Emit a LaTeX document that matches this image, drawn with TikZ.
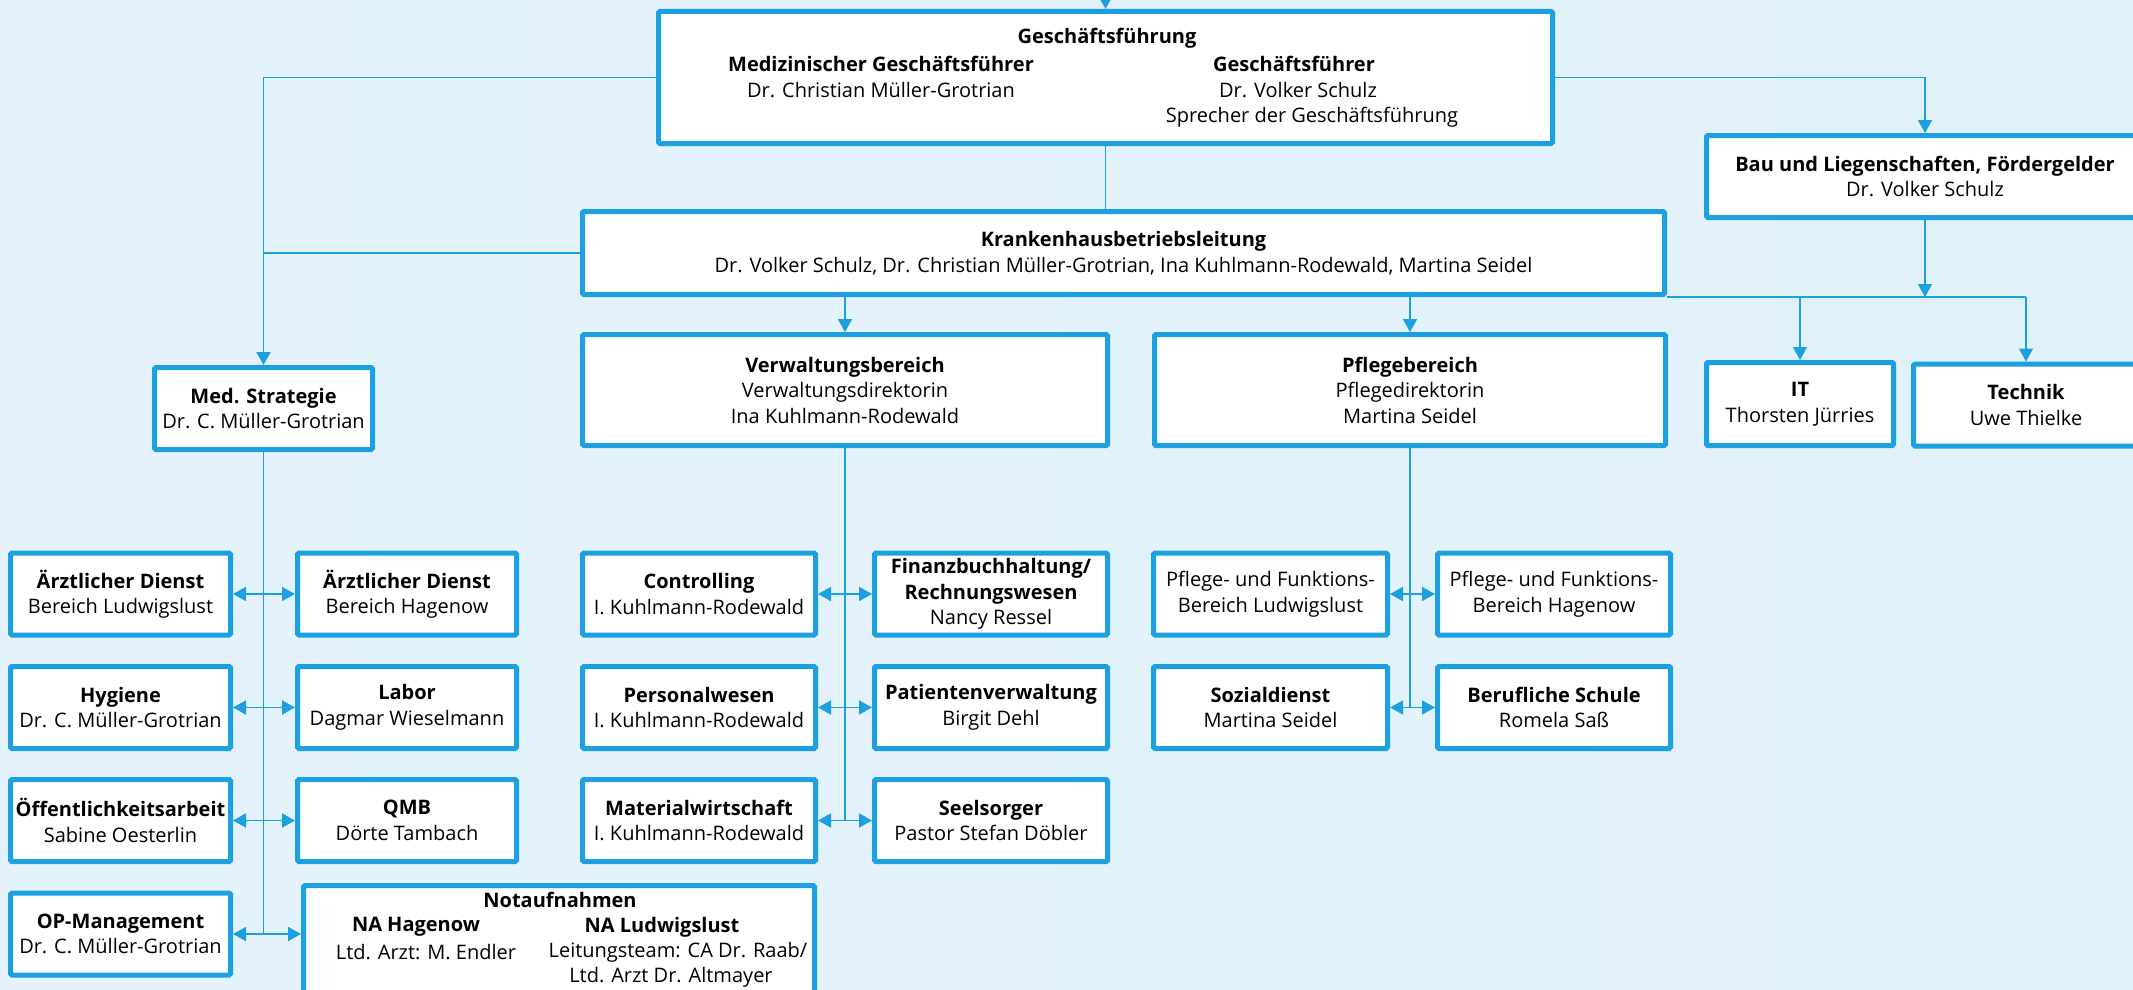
\documentclass[tikz,border=0pt]{standalone}
\usepackage{fontspec}
\setmainfont{Open Sans}
\usetikzlibrary{arrows.meta}
\definecolor{orgblue}{HTML}{1CA0E0}
\definecolor{bgleft}{HTML}{E4F3FB}
\definecolor{bgmid}{HTML}{D5EAF7}
\definecolor{bgright}{HTML}{E1F1FA}

\begin{document}
\begin{tikzpicture}[x=1pt, y=-1pt,
    unit/.style={draw=orgblue, line width=5pt, fill=white, rounded corners=1.5pt,
      align=center, inner sep=0pt, minimum height=82pt,
      font=\fontsize{20}{25.5}\selectfont},
    txt/.style={inner sep=0pt, align=center, font=\fontsize{20}{25.5}\selectfont},
    link/.style={draw=orgblue, line width=1.8pt},
    arrowtip/.style={-{Triangle[width=14pt,length=13pt]}}]

    % Background
    \useasboundingbox (0,0) rectangle (2133,990);
    \shade[left color=bgleft, middle color=bgmid, right color=bgright] (0,0) rectangle (2133,990);
    \clip (0,0) rectangle (2133,990);

    % Top level
    \node[unit, minimum width=894pt, minimum height=132pt] (gf) at (1105.5,77.5) {};
    \node[unit, minimum width=1082pt, minimum height=83pt] (kbl) at (1123.5,253)
      {\textbf{Krankenhausbetriebsleitung}\\Dr. Volker Schulz, Dr. Christian Müller-Grotrian, Ina Kuhlmann-Rodewald, Martina Seidel};
    \node[unit, minimum width=437pt] (bau) at (1925,176.5)
      {\textbf{Bau und Liegenschaften, Fördergelder}\\Dr. Volker Schulz};

    % Geschaeftsfuehrung text
    \foreach \x/\y/\t [count=\i] in {1107/38/{\textbf{Geschäftsführung}},
        881/64/{\textbf{Medizinischer Geschäftsführer}}, 881/90/{Dr. Christian Müller-Grotrian},
        1294/64/{\textbf{Geschäftsführer}}, 1298/90/{Dr. Volker Schulz},
        1312/117/{Sprecher der Geschäftsführung}} {
      \node[txt] (gf\i) at (\x,\y) {\t};
    }

    % Second level
    \node[unit, minimum width=218pt] (med) at (263.5,408.5)
      {\textbf{Med. Strategie}\\Dr. C. Müller-Grotrian};
    \node[unit, minimum width=525pt, minimum height=111pt] (verw) at (845,390)
      {\textbf{Verwaltungsbereich}\\Verwaltungsdirektorin\\Ina Kuhlmann-Rodewald};
    \node[unit, minimum width=511pt, minimum height=111pt] (pflege) at (1410,390)
      {\textbf{Pflegebereich}\\Pflegedirektorin\\Martina Seidel};
    \node[unit, minimum width=187pt, minimum height=83pt] (it) at (1800,404)
      {\textbf{IT}\\Thorsten Jürries};
    \node[unit, minimum width=225pt] (technik) at (2026,405)
      {\textbf{Technik}\\Uwe Thielke};

    % Departments
    \foreach \n/\x/\y/\w/\t in {
        aeL/120.5/594/220/{\textbf{Ärztlicher Dienst}\\Bereich Ludwigslust},
        hyg/120.5/707.5/220/{\textbf{Hygiene}\\Dr. C. Müller-Grotrian},
        oea/120.5/820.5/220/{\textbf{Öffentlichkeitsarbeit}\\Sabine Oesterlin},
        op/120.5/934/220/{\textbf{OP-Management}\\Dr. C. Müller-Grotrian},
        aeH/407/594/219/{\textbf{Ärztlicher Dienst}\\Bereich Hagenow},
        labor/407/707.5/219/{\textbf{Labor}\\Dagmar Wieselmann},
        qmb/407/820.5/219/{\textbf{QMB}\\Dörte Tambach},
        ctrl/699/594/233/{\textbf{Controlling}\\I. Kuhlmann-Rodewald},
        pers/699/707.5/233/{\textbf{Personalwesen}\\I. Kuhlmann-Rodewald},
        mat/699/820.5/233/{\textbf{Materialwirtschaft}\\I. Kuhlmann-Rodewald},
        fibu/991/594/233/{\textbf{Finanzbuchhaltung/}\\\textbf{Rechnungswesen}\\Nancy Ressel},
        patv/991/707.5/233/{\textbf{Patientenverwaltung}\\Birgit Dehl},
        seel/991/820.5/233/{\textbf{Seelsorger}\\Pastor Stefan Döbler},
        pfL/1270.5/594/234/{Pflege- und Funktions-\\Bereich Ludwigslust},
        sozial/1270.5/707.5/234/{\textbf{Sozialdienst}\\Martina Seidel},
        pfH/1554/594/233/{Pflege- und Funktions-\\Bereich Hagenow},
        schule/1554/707.5/233/{\textbf{Berufliche Schule}\\Romela Saß}} {
      \node[unit, minimum width=\w pt] (\n) at (\x,\y) {\t};
    }

    % Notaufnahmen
    \node[unit, minimum width=511pt, minimum height=107pt] (na) at (559,939) {};
    \foreach \x/\y/\t [count=\i] in {560/900/{\textbf{Notaufnahmen}},
        416/927/{\textbf{NA Hagenow}}, 426/952/{Ltd. Arzt: M. Endler},
        662/927/{\textbf{NA Ludwigslust}}, 678/952/{Leitungsteam: CA Dr. Raab/},
        671/977/{Ltd. Arzt Dr. Altmayer}} {
      \node[txt] (na\i) at (\x,\y) {\t};
    }

    % Connectors, top part
    \coordinate (above) at (1105.5,-40);
    \draw[link, arrowtip] (above) -- (gf.north);
    \draw[link, arrowtip] (gf.east) -| (bau.north);
    \draw[link, arrowtip] (gf.west) -| (med.north);
    \draw[link] (gf.south) -- (gf.south |- kbl.north);
    \draw[link] (kbl.west) -- (kbl.west -| med.north);
    \draw[link, arrowtip] (verw.north |- kbl.south) -- (verw.north);
    \draw[link, arrowtip] (pflege.north |- kbl.south) -- (pflege.north);
    \draw[link] (kbl.south east) -- (kbl.south east -| technik.north);
    \draw[link, arrowtip] (bau.south) -- (bau.south |- kbl.south east);
    \draw[link, arrowtip] (it.north |- kbl.south east) -- (it.north);
    \draw[link, arrowtip] (technik.north |- kbl.south east) -- (technik.north);

    % Connectors, departments
    \draw[link] (med.south) -- (med.south |- op.east);
    \draw[link] (verw.south) -- (verw.south |- mat.east);
    \draw[link] (pflege.south) -- (pflege.south |- sozial.east);
    \foreach \p/\l/\r in {med/aeL/aeH, med/hyg/labor, med/oea/qmb, med/op/na,
        verw/ctrl/fibu, verw/pers/patv, verw/mat/seel,
        pflege/pfL/pfH, pflege/sozial/schule} {
      \draw[link, arrowtip] (\p.south |- \l.east) -- (\l.east);
      \draw[link, arrowtip] (\p.south |- \l.east) -- (\r.west |- \l.east);
    }
\end{tikzpicture}
\end{document}
